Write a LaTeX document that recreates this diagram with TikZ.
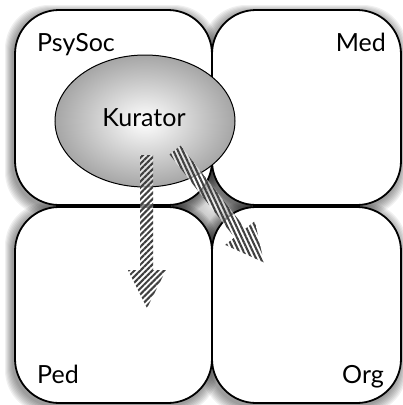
\documentclass[tikz,border=0pt]{standalone}
\usepackage{fontspec}
\setmainfont{Lato}
\usetikzlibrary{patterns.meta}
\begin{document}
\begin{tikzpicture}[x=1pt,y=-1pt,
  box/.style={draw=black,line width=1.8pt,fill=white,rounded corners=44pt},
  lbl/.style={font=\fontsize{25}{28}\selectfont,inner sep=0pt},
  stripeA/.style={pattern={Lines[angle=45,distance=4.2pt,line width=2.1pt]},pattern color=black!75},
  stripeB/.style={pattern={Lines[angle=115,distance=4.2pt,line width=2.1pt]},pattern color=black!75}]
\useasboundingbox (0,0) rectangle (403,405);
% gap shading in middle
\shade[inner color=gray!20,outer color=gray!90] (212,206) circle (40);
% shadows
\foreach \i in {1,...,8}{
  \fill[black,opacity=0.06,rounded corners=44pt] (15-\i-2,10-\i+3) rectangle (212+\i-2,205+\i+3);
  \fill[black,opacity=0.06,rounded corners=44pt] (212-\i-2,10-\i+3) rectangle (401+\i-2,205+\i+3);
  \fill[black,opacity=0.06,rounded corners=44pt] (15-\i-2,207-\i+3) rectangle (212+\i-2,403+\i+3);
  \fill[black,opacity=0.06,rounded corners=44pt] (212-\i-2,207-\i+3) rectangle (401+\i-2,403+\i+3);
}
% boxes
\path[box] (15,10) rectangle (212,205);
\path[box] (212,10) rectangle (401,205);
\path[box] (15,207) rectangle (212,403);
\path[box] (212,207) rectangle (401,403);
\node[lbl,anchor=base west] (psysoc) at (37,51) {PsySoc};
\node[lbl,anchor=base east] (med) at (386,51) {Med};
\node[lbl,anchor=base west] (ped) at (37,383) {Ped};
\node[lbl,anchor=base east] (org) at (384,383) {Org};
% ellipse
\path[draw=black,line width=1pt,shading=radial,inner color=white,outer color=gray!70]
  (145,121) ellipse [x radius=90, y radius=66];
\node[lbl] (kurator) at (144,118) {Kurator};
% down arrow
\path[fill=white,fill opacity=0.55] (140,155) -- (153,155) -- (153,270) -- (166,270) -- (147,308) -- (128,270) -- (140,270) -- cycle;
\path[stripeA] (140,155) -- (153,155) -- (153,270) -- (166,270) -- (147,308) -- (128,270) -- (140,270) -- cycle;
% diagonal arrow
\path[fill=white,fill opacity=0.55] (180.5,145.6) -- (245.5,228.6) -- (254.8,221.1) -- (264,262.5) -- (225.2,244.9) -- (234.5,237.4) -- (169.5,154.4) -- cycle;
\path[stripeB] (180.5,145.6) -- (245.5,228.6) -- (254.8,221.1) -- (264,262.5) -- (225.2,244.9) -- (234.5,237.4) -- (169.5,154.4) -- cycle;
\end{tikzpicture}
\end{document}
